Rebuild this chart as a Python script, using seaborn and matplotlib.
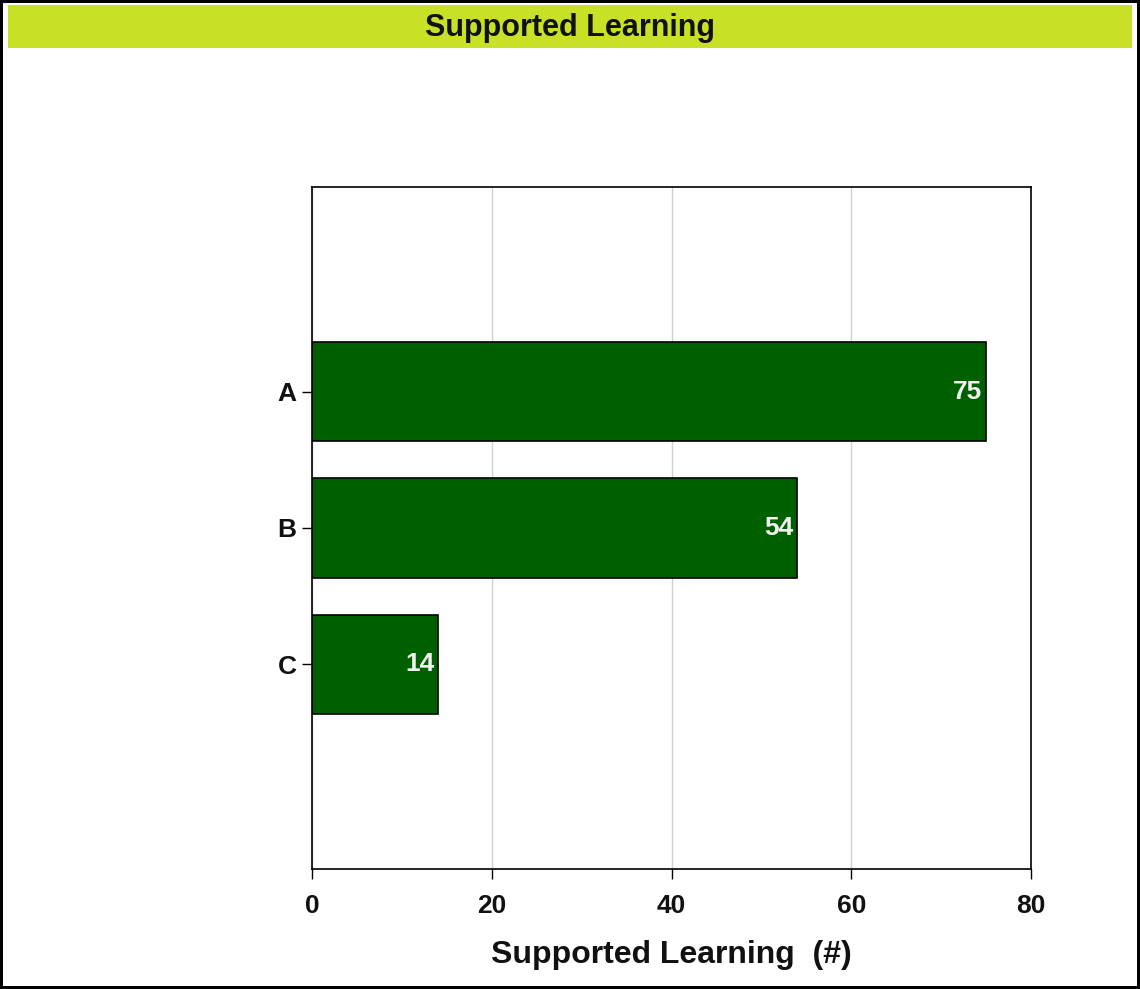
import matplotlib
matplotlib.use("Agg")
import matplotlib.pyplot as plt
from matplotlib.patches import Rectangle
import seaborn as sns
import pandas as pd

categories = ["A", "B", "C"]
values = [75, 54, 14]
x_ticks = [0, 20, 40, 60, 80]

sns.set_theme(style="white")
plt.rcParams["font.family"] = ["Liberation Sans", "DejaVu Sans"]
plt.rcParams["font.weight"] = "bold"
plt.rcParams["text.color"] = "#111111"
plt.rcParams["axes.labelcolor"] = "#111111"
plt.rcParams["xtick.color"] = "#111111"
plt.rcParams["ytick.color"] = "#111111"

df = pd.DataFrame({"cat": categories, "val": values})

fig = plt.figure(figsize=(11.4, 9.89), dpi=100)
fig.patch.set_edgecolor("black")
fig.patch.set_linewidth(3)

# green title band
fig.patches.append(Rectangle((8 / 1140, 1 - 48 / 989), 1124 / 1140, 43 / 989,
                             transform=fig.transFigure, facecolor="#c8e026",
                             edgecolor="none", zorder=0))
fig.text(0.5, 1 - 28 / 989, "Supported Learning", ha="center", va="center",
         fontsize=22, fontweight="bold")

ax = fig.add_axes([312 / 1140, 1 - 869 / 989, 719 / 1140, 682 / 989])
sns.barplot(data=df, x="val", y="cat", orient="h", color="#006000",
            saturation=1, width=0.73, edgecolor="black", linewidth=1.2, ax=ax)

for bar, v in zip(ax.patches, values):
    ax.text(bar.get_width() - 0.4, bar.get_y() + bar.get_height() / 2, str(v),
            ha="right", va="center", color="#f2f2f2", fontsize=19,
            fontweight="bold")

ax.set_xlim(0, 80)
ax.set_ylim(3.5, -1.5)
ax.set_xticks(x_ticks)
ax.xaxis.grid(True, color="#d0d0d0", linewidth=1)
ax.set_axisbelow(True)
ax.set_xlabel("Supported Learning  (#)", fontsize=23, fontweight="bold",
              labelpad=16)
ax.set_ylabel("")
ax.tick_params(axis="both", which="both", direction="out", length=7,
               width=1, color="black", labelsize=19, bottom=True, left=True)
ax.tick_params(axis="x", pad=11)
ax.tick_params(axis="y", pad=4)
for s in ax.spines.values():
    s.set_color("black")
    s.set_linewidth(1.2)

fig.savefig("out.png", dpi=100)
